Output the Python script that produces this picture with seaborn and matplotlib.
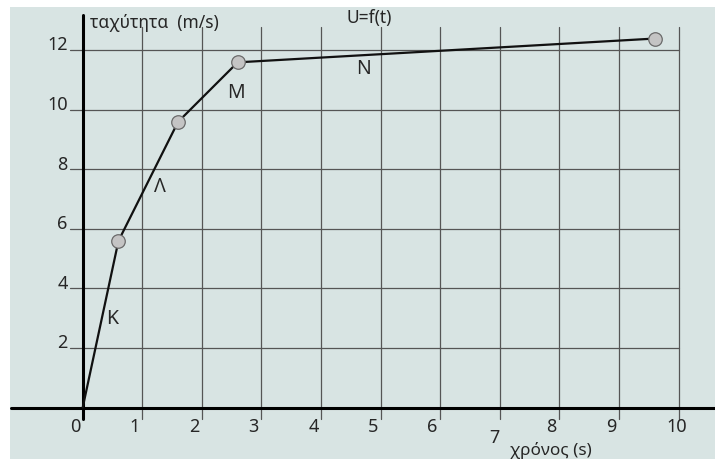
import matplotlib
matplotlib.use("Agg")
import matplotlib.pyplot as plt
import seaborn as sns
import pandas as pd

# Data
time_s = [0.0, 0.6, 1.6, 2.6, 9.6]
speed_ms = [0.0, 5.6, 9.6, 11.6, 12.4]
segment_labels = ["Κ", "Λ", "Μ", "Ν"]
segment_label_x = [0.5, 1.3, 2.57, 4.72]
segment_label_y = [3.0, 7.45, 10.6, 11.4]
x_ticks = [0, 1, 2, 3, 4, 5, 6, 7, 8, 9, 10]
y_ticks = [2, 4, 6, 8, 10, 12]

sns.set_theme(style="white")
plt.rcParams['font.family'] = ['Noto Sans', 'DejaVu Sans']

BG = "#d8e4e3"
TXT = "#262626"
fig = plt.figure(figsize=(7.19, 4.60), dpi=100, facecolor="white")
ax = fig.add_axes([10/719, 0, 705/719, 452/460])
ax.set_facecolor(BG)
for s in ax.spines.values():
    s.set_visible(False)
ax.set_xticks([]); ax.set_yticks([])
ax.set_xlim(-1.22, 10.61)
ax.set_ylim(-1.73, 13.46)

grid_c = "#555555"
# vertical grid lines with tick extension below the axis
for xv in x_ticks[1:]:
    ax.plot([xv, xv], [-0.37, 12.79], color=grid_c, lw=0.9, zorder=1)
# horizontal grid lines with tick extension left of the axis
for yv in y_ticks:
    ax.plot([-0.22, 10], [yv, yv], color=grid_c, lw=0.9, zorder=1)

# main axes lines
ax.plot([-1.2, 10.61], [0, 0], color="black", lw=2.2, zorder=2)
ax.plot([0, 0], [-0.37, 13.2], color="black", lw=2.2, zorder=2)

df = pd.DataFrame({"t": time_s, "v": speed_ms})
sns.lineplot(data=df, x="t", y="v", ax=ax, color="#111111", lw=1.6,
             zorder=3, sort=False)
pts = df.iloc[1:]
sns.scatterplot(data=pts, x="t", y="v", ax=ax, s=95, color="#c4c4c4",
                edgecolor="#6a6a6a", linewidth=0.9, zorder=4)
ax.set_xlabel(""); ax.set_ylabel("")

for lab, lx, ly in zip(segment_labels, segment_label_x, segment_label_y):
    ax.text(lx, ly, lab, fontsize=14, color=TXT, ha="center", va="center", zorder=5)

# tick labels
for xv in x_ticks:
    if xv == 7:
        ax.text(xv - 0.1, -1.0, str(xv), fontsize=13, color=TXT, ha="center", va="center")
    elif xv == 10:
        ax.text(xv - 0.04, -0.63, str(xv), fontsize=13, color=TXT, ha="center", va="center")
    else:
        ax.text(xv - 0.13, -0.63, str(xv), fontsize=13, color=TXT, ha="center", va="center")
for yv in y_ticks:
    ax.text(-0.25, yv + 0.2, str(yv), fontsize=13, color=TXT, ha="right", va="center")

ax.text(0.12, 12.95, "ταχύτητα  (m/s)", fontsize=12.5, color=TXT, ha="left", va="center")
ax.text(4.42, 13.13, "U=f(t)", fontsize=12.5, color=TXT, ha="left", va="center")
ax.text(7.85, -1.42, "χρόνος (s)", fontsize=12.3, color=TXT, ha="center", va="center")

fig.savefig("out.png", dpi=100, facecolor="white")
